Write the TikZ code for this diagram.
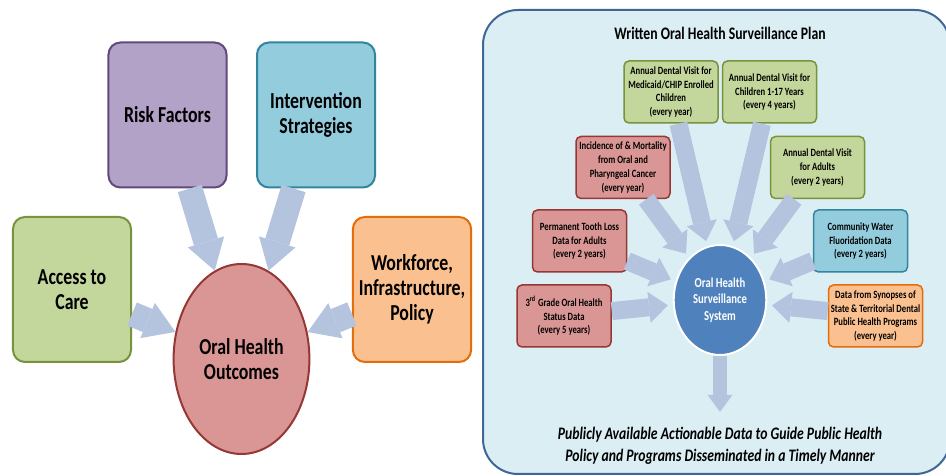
\documentclass[tikz,border=0pt]{standalone}
\usepackage{fontspec}
\setmainfont{Carlito}[FakeStretch=0.78]
\usepackage{tikz}
\usetikzlibrary{arrows.meta}
\usetikzlibrary{shapes.geometric}

\definecolor{arrowblue}{RGB}{180,196,223}
\definecolor{panelfill}{RGB}{219,238,244}
\definecolor{panelline}{RGB}{64,102,150}
\definecolor{greenfill}{RGB}{195,214,155}
\definecolor{greenline}{RGB}{119,147,60}
\definecolor{purplefill}{RGB}{179,162,199}
\definecolor{purpleline}{RGB}{96,74,123}
\definecolor{tealfill}{RGB}{147,205,221}
\definecolor{tealline}{RGB}{49,133,156}
\definecolor{orangefill}{RGB}{250,192,144}
\definecolor{orangeline}{RGB}{228,108,10}
\definecolor{redfill}{RGB}{217,150,148}
\definecolor{redline}{RGB}{149,55,53}
\definecolor{survblue}{RGB}{79,129,189}

\begin{document}
\begin{tikzpicture}[x=0.2mm, y=-0.2mm,
    bigbox/.style={draw, line width=0.4mm, rounded corners=2.4mm, minimum width=23.6mm, minimum height=29mm, align=center, font=\bfseries\fontsize{13}{14.2}\selectfont},
    databox/.style={draw, line width=0.3mm, rounded corners=1mm, minimum width=18.8mm, minimum height=12.4mm, inner sep=0.4mm, align=center, font=\bfseries\fontsize{6.3}{7.9}\selectfont},
    bigarrow/.style={-{Triangle[width=7.6mm, length=6mm, line width=0pt]}, line width=5mm, color=arrowblue},
    feedarrow/.style={-{Triangle[width=6.2mm, length=3.8mm, line width=0pt]}, line width=3.6mm, color=arrowblue, shorten >=1mm},
    outarrow/.style={-{Triangle[width=5mm, length=3.4mm, line width=0pt]}, line width=2.8mm, color=arrowblue, shorten >=1.8mm}]
    \useasboundingbox (0, 0) rectangle (946, 476);

    % left: outcomes model
    \node (risk)[bigbox, fill=purplefill, draw=purpleline] at (167.5, 115) {Risk Factors};
    \node (intervention)[bigbox, fill=tealfill, draw=tealline] at (316, 115) {Intervention \\ Strategies};
    \node (access)[bigbox, fill=greenfill, draw=greenline] at (72, 289.5) {Access to \\ Care};
    \node (workforce)[bigbox, fill=orangefill, draw=orangeline] at (412, 289.5) {Workforce, \\ Infrastructure, \\ Policy};
    \node (outcomes)[ellipse, draw=redline, fill=redfill, line width=0.4mm, minimum width=24.6mm, minimum height=38mm, align=center, font=\bfseries\fontsize{13}{14.2}\selectfont] at (241.5, 359) {Oral Health \\ Outcomes};

    \path [bigarrow] (risk) edge (outcomes);
    \path [bigarrow] (intervention) edge (outcomes);
    \path [bigarrow] (access) edge (outcomes);
    \path [bigarrow] (workforce) edge (outcomes);

    % right: surveillance plan
    \draw [draw=panelline, fill=panelfill, line width=0.4mm, rounded corners=7mm] (483, 10) rectangle (950, 474);
    \node (plan)[font=\bfseries\fontsize{10}{12}\selectfont] at (720, 33) {Written Oral Health Surveillance Plan};

    \node (system)[ellipse, draw=white, fill=survblue, line width=0.4mm, minimum width=16.4mm, minimum height=22mm, align=center, text=white, font=\bfseries\fontsize{7.8}{9.4}\selectfont] at (720, 300) {Oral Health \\ Surveillance \\ System};

    \node (medicaid)[databox, fill=greenfill, draw=greenline] at (671, 92) {Annual Dental Visit for \\ Medicaid/CHIP Enrolled \\ Children \\ (every year)};
    \node (children)[databox, fill=greenfill, draw=greenline] at (769.5, 92) {Annual Dental Visit for \\ Children 1-17 Years \\ (every 4 years)};
    \node (cancer)[databox, fill=redfill, draw=redline] at (623, 167.5) {Incidence of \& Mortality \\ from Oral and \\ Pharyngeal Cancer \\ (every year)};
    \node (adults)[databox, fill=greenfill, draw=greenline] at (817.5, 167.5) {Annual Dental Visit \\ for Adults \\ (every 2 years)};
    \node (toothloss)[databox, fill=redfill, draw=redline] at (579.5, 241) {Permanent Tooth Loss \\ Data for Adults \\ (every 2 years)};
    \node (water)[databox, fill=tealfill, draw=tealline] at (860.5, 241) {Community Water \\ Fluoridation Data \\ (every 2 years)};
    \node (thirdgrade)[databox, fill=redfill, draw=redline] at (564, 316) {3\textsuperscript{rd} Grade Oral Health \\ Status Data \\ (every 5 years)};
    \node (synopses)[databox, fill=orangefill, draw=orangeline] at (875.5, 316) {Data from Synopses of \\ State \& Territorial Dental \\ Public Health Programs \\ (every year)};

    \node (actionable)[align=center, font=\bfseries\itshape\fontsize{10}{12.8}\selectfont] at (720, 446) {Publicly Available Actionable Data to Guide Public Health \\ Policy and Programs Disseminated in a Timely Manner};

    \path [feedarrow] (medicaid) edge (system);
    \path [feedarrow] (children) edge (system);
    \path [feedarrow] (cancer) edge (system);
    \path [feedarrow] (adults) edge (system);
    \path [feedarrow] (toothloss) edge (system);
    \path [feedarrow] (water) edge (system);
    \path [feedarrow] (thirdgrade) edge (system);
    \path [feedarrow] (synopses) edge (system);
    \path [outarrow] (system) edge (actionable);
\end{tikzpicture}
\end{document}
